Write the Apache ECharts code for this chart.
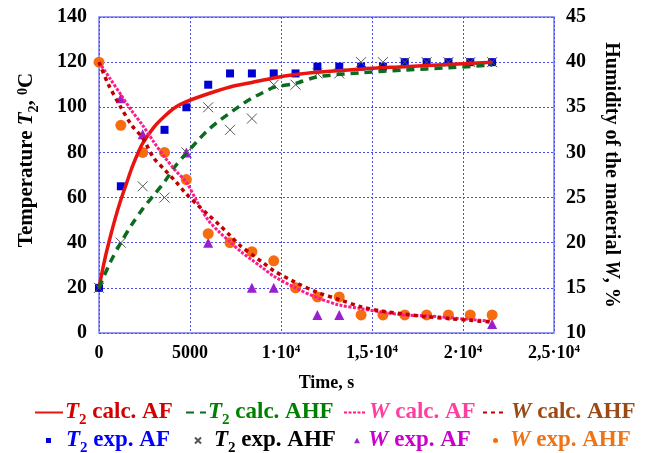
<!DOCTYPE html>
<html>
<head>
<meta charset="utf-8">
<script src="https://cdn.jsdelivr.net/npm/echarts@6/dist/echarts.min.js"></script>
<style>html,body{margin:0;background:#fff}#chart{width:646px;height:453px}</style>
</head>
<body>
<div id="chart"></div>
<script>
// tick labels of the time axis (every 5000 s)
var xTickText = ['0', '5000', '{m|1·10}{s|4}', '{m|1,5·10}{s|4}', '{m|2·10}{s|4}', '{m|2,5·10}{s|4}'];

// calculated curves
var t2CalcAFTime = [0, 300, 600, 900, 1200, 1500, 1800, 2100, 2400, 3000, 3600, 4200, 4800, 6000, 7200, 8400, 9600, 10800, 12000, 14400, 16800, 19200, 21600];
var t2CalcAF = [20, 32, 42, 51, 59, 66, 73, 79, 84, 91, 96, 100, 102.5, 106, 109, 111, 113, 114.5, 115.5, 117, 118, 119, 120];

var t2CalcAHFTime = [0, 600, 1200, 1800, 2400, 3000, 3600, 4200, 4800, 5400, 6000, 6600, 7200, 7800, 8400, 9000, 9600, 10800, 12000, 14400, 16800, 19200, 21600];
var t2CalcAHF = [20, 31, 40, 48, 55, 61, 67, 74, 79.6, 85, 90, 94, 97.5, 101, 104, 106.5, 108.8, 110.6, 113.5, 115.3, 116.5, 117.5, 118.7];

var wCalcAFTime = [0, 600, 1200, 1800, 2400, 3000, 3600, 4200, 4800, 5400, 6000, 6600, 7200, 7800, 8400, 9000, 9600, 10800, 12000, 13200, 14400, 15600, 16800, 18000, 19200, 20400, 21600];
var wCalcAF = [40, 38.2, 36.4, 34.6, 33, 31.2, 29.5, 28, 26.7, 24.5, 22.5, 21.2, 20.1, 19, 18.1, 17.2, 16.3, 15, 13.9, 13.1, 12.7, 12.3, 12, 11.9, 11.7, 11.5, 11.3];

var wCalcAHFTime = [0, 500, 1200, 1800, 2400, 3000, 3600, 4200, 4800, 5400, 6000, 6600, 7200, 7800, 8400, 9000, 9600, 10800, 12000, 13200, 14400, 15600, 16800, 18000, 19200, 20400, 21600];
var wCalcAHF = [40, 37.6, 35, 33, 31.6, 29.4, 28.1, 26.8, 25.4, 24.2, 23.1, 22, 20.8, 19.6, 18.7, 17.8, 16.9, 15.6, 14.5, 13.7, 12.9, 12.4, 12.1, 11.8, 11.6, 11.4, 11.2];

// experimental points
var expTime = [0, 1200, 2400, 3600, 4800, 6000, 7200, 8400, 9600, 10800, 12000, 13200, 14400, 15600, 16800, 18000, 19200, 20400, 21600];
var t2ExpAF = [20, 65, 80, 90, 100, 110, 115, 115, 115, 115, 118, 118, 118, 118, 120, 120, 120, 120, 120];
var t2ExpAHF = [20, 40, 65, 60, 80, 100, 90, 95, 110, 110, 115, 115, 120, 120, 120, 120, 120, 120, 120];
var wExpAHF = [40, 33, 30, 30, 27, 21, 20, 19, 18, 15, 14, 14, 12, 12, 12, 12, 12, 12, 12];

var wExpAFTime = [1200, 2400, 4800, 6000, 8400, 9600, 12000, 13200, 21600];
var wExpAF = [36, 32, 30, 20, 15, 15, 12, 12, 11];

function pairs(xs, ys) {
    var out = [];
    for (var i = 0; i < xs.length; i++) {
        if (ys[i] != null) out.push([xs[i], ys[i]]);
    }
    return out;
}

var serif = 'Liberation Serif';
var gridColor = '#4b4bf2';
var crossPath = 'path://M0,0L10,10M10,0L0,10';

var myChart = echarts.init(document.getElementById('chart'));

function richFor(color, size) {
    return {
        b: {fontFamily: serif, fontWeight: 'bold', fontSize: size, color: color},
        i: {fontFamily: serif, fontWeight: 'bold', fontStyle: 'italic', fontSize: size, color: color},
        sub: {fontFamily: serif, fontWeight: 'bold', fontSize: Math.round(size * 0.65), color: color, verticalAlign: 'bottom', padding: [0, 0, -4, 0]},
        sup: {fontFamily: serif, fontWeight: 'bold', fontSize: Math.round(size * 0.65), color: color, verticalAlign: 'top'},
        m: {fontFamily: serif, fontWeight: 'bold', fontSize: size, color: color},
        s: {fontFamily: serif, fontWeight: 'bold', fontSize: Math.round(size * 0.6), color: color, verticalAlign: 'top'}
    };
}

// one legend box per entry so they sit like the original
function leg(name, icon, label, color, left, top, iw, ih, textLeft) {
    var l = {
        data: [icon ? {name: name, icon: icon} : name],
        left: left,
        top: top,
        itemWidth: iw,
        itemHeight: ih,
        itemGap: 0,
        selectedMode: false,
        formatter: function () { return label; },
        textStyle: {color: color, padding: [0, 0, 0, textLeft - left - iw - 5], rich: richFor(color, 23)}
    };
    if (!icon) l.itemStyle = {opacity: 0};
    return l;
}

var option = {
    animation: false,
    grid: {left: 99, right: 92, top: 17, bottom: 120, show: true, borderColor: '#7a7af5', borderWidth: 1.5},
    legend: [
        leg('T2 calc. AF', null, '{i|T}{sub|2}{b| calc. AF}', '#d40000', 29, 396, 28, 10, 59),
        leg('T2 calc. AHF', null, '{i|T}{sub|2}{b| calc. AHF}', '#008000', 180, 396, 20, 10, 202),
        leg('W calc. AF', null, '{i|W}{b| calc. AF}', '#ff3fa0', 338, 396, 22, 10, 363),
        leg('W calc. AHF', null, '{i|W}{b| calc. AHF}', '#9c4a14', 477, 396, 23, 10, 505),
        leg('T2 exp. AF', 'path://M0,0h10v10h-10z', '{i|T}{sub|2}{b| exp. AF}', '#0000ff', 41, 424, 5, 5, 61),
        leg('T2 exp. AHF', crossPath, '{i|T}{sub|2}{b| exp. AHF}', '#000000', 189, 424, 6, 6, 208),
        leg('W exp. AF', 'path://M5,0L10,9L0,9Z', '{i|W}{b| exp. AF}', '#cc00cc', 349, 424, 6, 6, 363),
        leg('W exp. AHF', 'circle', '{i|W}{b| exp. AHF}', '#ee7418', 488, 424, 5, 5, 505)
    ],
    xAxis: {
        type: 'value',
        min: 0,
        max: 25000,
        interval: 5000,
        name: 'Time, s',
        nameLocation: 'middle',
        nameGap: 41,
        nameTextStyle: {fontFamily: serif, fontWeight: 'bold', fontSize: 18, color: '#000'},
        axisLine: {show: false},
        axisTick: {show: false},
        axisLabel: {
            margin: 11,
            formatter: function (v) { return xTickText[Math.round(v / 5000)]; },
            fontFamily: serif, fontWeight: 'bold', fontSize: 18, color: '#000',
            rich: richFor('#000', 18)
        },
        splitLine: {show: true, lineStyle: {color: gridColor, type: [2, 2], width: 1}}
    },
    yAxis: [{
        type: 'value',
        min: 0,
        max: 140,
        interval: 20,
        name: '{b|Temperature }{i|T}{sub|2}{b|, }{sup|0}{b|C}',
        nameLocation: 'middle',
        nameGap: 62,
        nameTextStyle: {padding: [0, 0, 0, 30], rich: richFor('#000', 21)},
        axisLine: {show: false},
        axisTick: {show: false},
        axisLabel: {margin: 12, fontFamily: serif, fontWeight: 'bold', fontSize: 20, color: '#000'},
        splitLine: {show: true, lineStyle: {color: gridColor, type: [2, 2], width: 1}}
    }, {
        type: 'value',
        position: 'right',
        min: 10,
        max: 45,
        interval: 5,
        name: '{b|Humidity of the material }{i|W}{b|, %}',
        nameLocation: 'middle',
        nameRotate: -90,
        nameGap: 47,
        nameTextStyle: {rich: richFor('#000', 20)},
        axisLine: {show: false},
        axisTick: {show: false},
        axisLabel: {margin: 12, fontFamily: serif, fontWeight: 'bold', fontSize: 20, color: '#000'},
        splitLine: {show: false}
    }],
    series: [{
        name: 'T2 calc. AF',
        type: 'line',
        symbol: 'none',
        smooth: 0.3,
        data: pairs(t2CalcAFTime, t2CalcAF),
        lineStyle: {color: '#e8140f', width: 3.5},
        itemStyle: {color: '#e8140f'}
    }, {
        name: 'T2 calc. AHF',
        type: 'line',
        symbol: 'none',
        smooth: 0.3,
        data: pairs(t2CalcAHFTime, t2CalcAHF),
        lineStyle: {color: '#0b6b1f', width: 3.5, type: [8, 6]},
        itemStyle: {color: '#0b6b1f'}
    }, {
        name: 'W calc. AF',
        type: 'line',
        yAxisIndex: 1,
        symbol: 'none',
        smooth: 0.3,
        data: pairs(wCalcAFTime, wCalcAF),
        lineStyle: {color: '#ff1a8c', width: 3, type: [3, 1.5]},
        itemStyle: {color: '#ff1a8c'}
    }, {
        name: 'W calc. AHF',
        type: 'line',
        yAxisIndex: 1,
        symbol: 'none',
        smooth: 0.3,
        data: pairs(wCalcAHFTime, wCalcAHF),
        lineStyle: {color: '#c00000', width: 3.5, type: [4, 4]},
        itemStyle: {color: '#c00000'}
    }, {
        name: 'T2 exp. AF',
        type: 'scatter',
        symbol: 'rect',
        symbolSize: 8,
        data: pairs(expTime, t2ExpAF),
        itemStyle: {color: '#0000d0', opacity: 1}
    }, {
        name: 'T2 exp. AHF',
        type: 'scatter',
        symbol: crossPath,
        symbolSize: 10,
        data: pairs(expTime, t2ExpAHF),
        itemStyle: {color: 'rgba(0,0,0,0)', borderColor: '#555', borderWidth: 1, opacity: 1}
    }, {
        name: 'W exp. AF',
        type: 'scatter',
        yAxisIndex: 1,
        symbol: 'triangle',
        symbolSize: 10,
        data: pairs(wExpAFTime, wExpAF),
        itemStyle: {color: '#9a1fd0', opacity: 1}
    }, {
        name: 'W exp. AHF',
        type: 'scatter',
        yAxisIndex: 1,
        symbol: 'circle',
        symbolSize: 11,
        data: pairs(expTime, wExpAHF),
        itemStyle: {color: '#f66c10', opacity: 1}
    }]
};

myChart.setOption(option);
</script>
</body>
</html>
